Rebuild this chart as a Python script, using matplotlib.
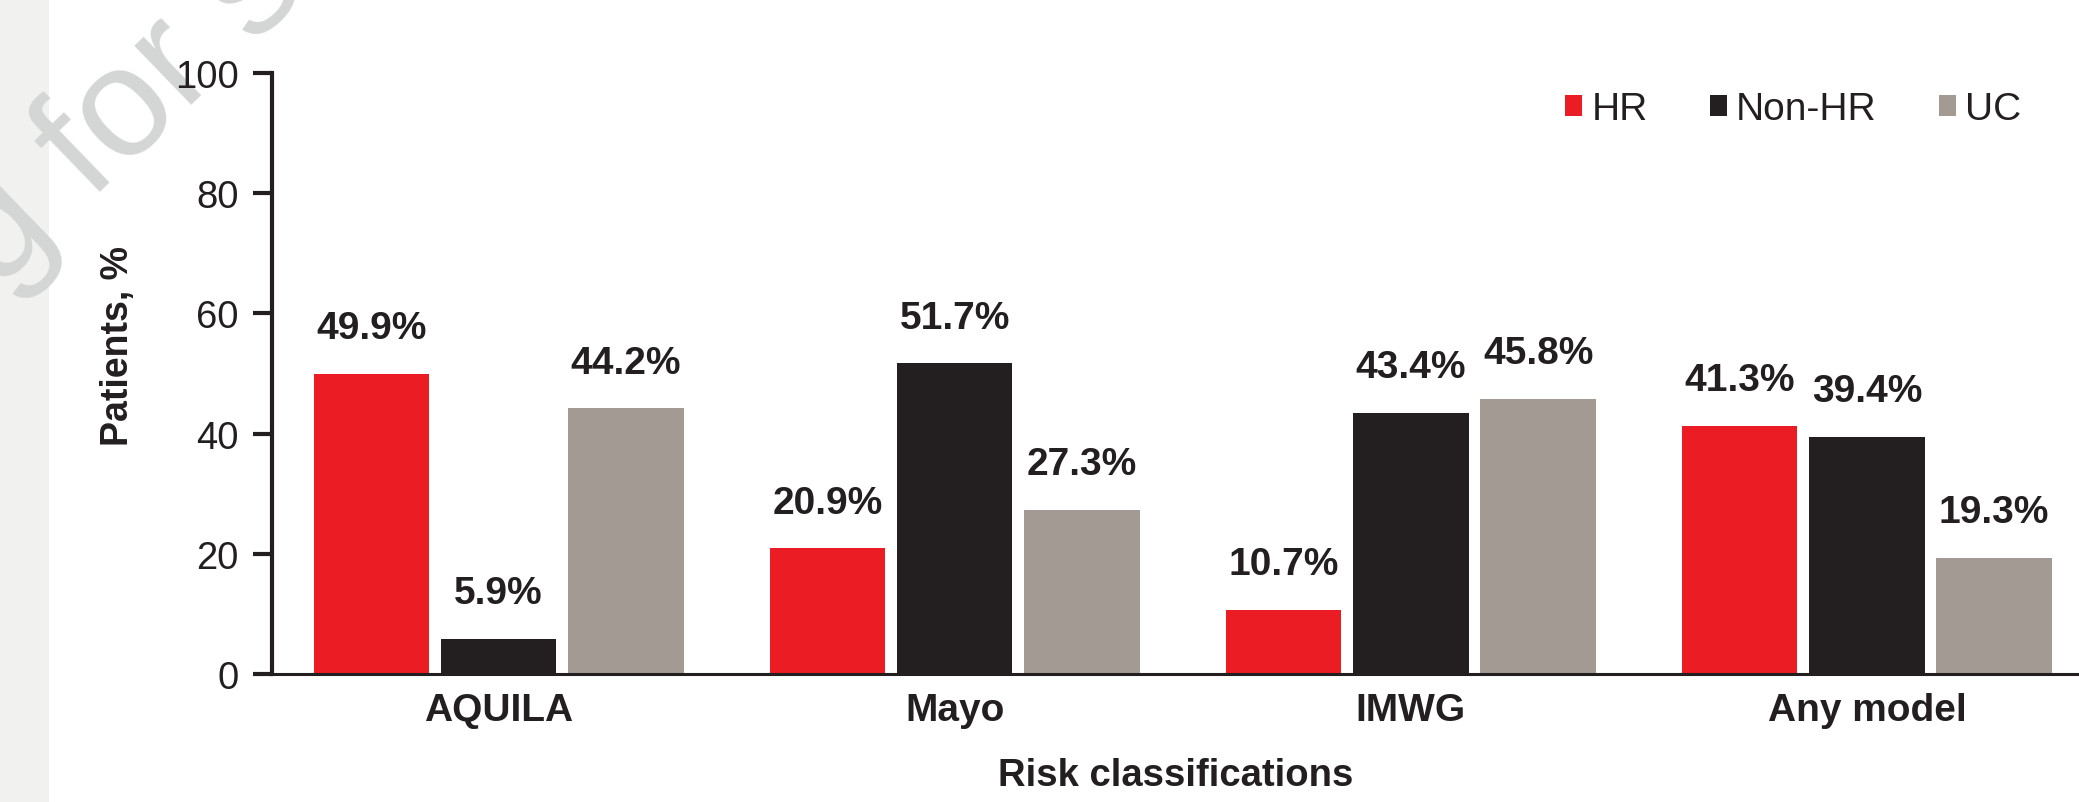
import matplotlib
matplotlib.use('Agg')
import numpy as np
import matplotlib.pyplot as plt
from matplotlib.patches import Rectangle

# Risk classification results
categories = ["AQUILA", "Mayo", "IMWG", "Any model"]
series_names = ["HR", "Non-HR", "UC"]
hr_values = [49.9, 20.9, 10.7, 41.3]
non_hr_values = [5.9, 51.7, 43.4, 39.4]
uc_values = [44.2, 27.3, 45.8, 19.3]
y_ticks = [0, 20, 40, 60, 80, 100]

colors = ["#EC1C24", "#231F20", "#A39A93"]
text_color = "#231F20"

plt.rcParams['font.family'] = ['Liberation Sans', 'DejaVu Sans']

fig = plt.figure(figsize=(20.79, 8.03), dpi=100)

# light strip on the left edge and the faint watermark over it (both behind the axes)
fig.patches.append(Rectangle((0, 0), 49 / 2079, 1, transform=fig.transFigure,
                             facecolor="#F1F1F0", edgecolor="none", zorder=0))
fig.text(-0.001, 0.637, "g for s", fontsize=112, color="#D4D6D5",
         rotation=44, rotation_mode='anchor', ha='left', va='baseline', zorder=0.5)

ax = fig.add_axes([0.1308, 0.1594, 0.8692, 0.7484])
ax.set_zorder(1)
ax.patch.set_alpha(0)

x = np.arange(len(categories))
width = 0.253
offset = 0.279
for i, (name, vals) in enumerate(zip(series_names, [hr_values, non_hr_values, uc_values])):
    bars = ax.bar(x + (i - 1) * offset, vals, width, color=colors[i], label=name, zorder=2)
    ax.bar_label(bars, labels=[f"{v:.1f}%" for v in vals], padding=20,
                 fontsize=28, fontweight='bold', color=text_color)

ax.set_xlim(-0.497, 3.465)
ax.set_ylim(0, 100)
ax.set_yticks(y_ticks)
ax.set_xticks(x)
ax.set_xticklabels(categories, fontsize=28, fontweight='bold', color=text_color)

for side in ("top", "right"):
    ax.spines[side].set_visible(False)
ax.spines["left"].set_linewidth(3.0)
ax.spines["bottom"].set_linewidth(2.2)
ax.spines["left"].set_color(text_color)
ax.spines["bottom"].set_color(text_color)

ax.tick_params(axis='y', length=14, width=3.0, color=text_color,
               labelsize=27.5, labelcolor=text_color, pad=10)
ax.tick_params(axis='x', length=0, pad=13)

ax.set_ylabel("Patients, %", fontsize=27, fontweight='bold', color=text_color)
ax.yaxis.set_label_coords(-0.075, 0.547)
ax.set_xlabel("Risk classifications", fontsize=27.5, fontweight='bold', color=text_color, labelpad=21)

ax.legend(loc='center right', bbox_to_anchor=(0.979, 0.940), ncol=3, frameon=False,
          fontsize=28, borderpad=0, handlelength=0.44, handleheight=0.44, handletextpad=0.24,
          columnspacing=1.6, labelcolor=text_color)

fig.savefig("out.png", dpi=100)
plt.close(fig)
